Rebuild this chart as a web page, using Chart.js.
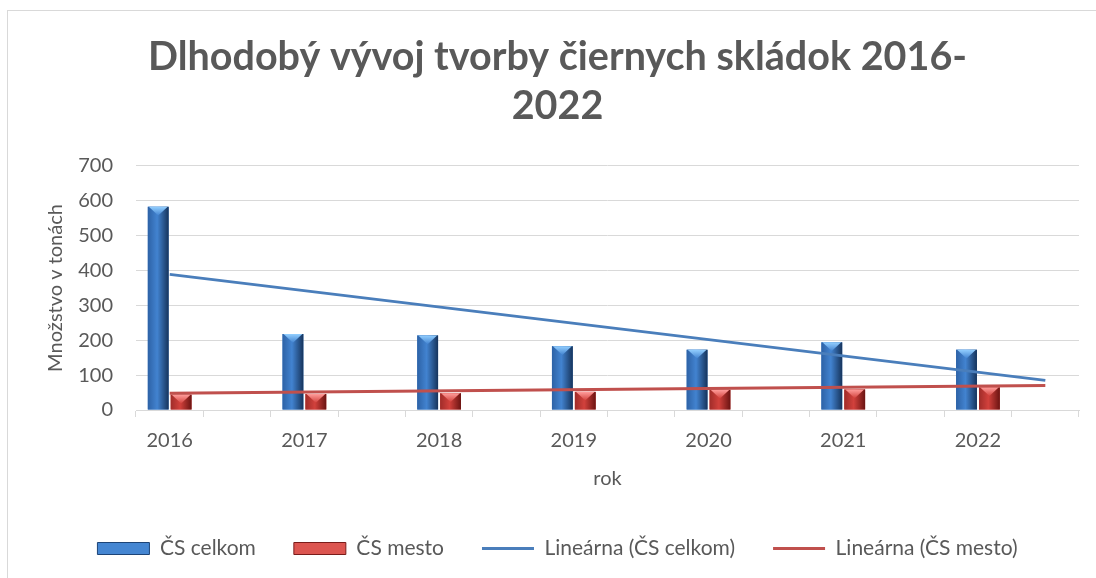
<!DOCTYPE html>
<html lang="sk">
<head>
	<meta charset="UTF-8">
	<title>Dlhodobý vývoj tvorby čiernych skládok</title>
	<script src="https://cdn.jsdelivr.net/npm/chart.js@4.4.1/dist/chart.umd.min.js"></script>
	<style>
		html, body { margin: 0; padding: 0; background: #fff; overflow: hidden; }
		#ramec {
			position: absolute; left: 7px; top: 10px;
			width: 1088px; height: 567px;
			border-left: 1px solid #d9d9d9; border-top: 1px solid #d9d9d9;
		}
	</style>
</head>
<body>
	<div id="ramec">
		<canvas id="graf" width="1088" height="567"></canvas>
	</div>
	<script>
		// hodnoty odčítané z obrázka
		const roky = ['2016', '2017', '2018', '2019', '2020', '2021', '2022'];
		const csCelkom = [583, 218, 214, 183, 173, 194, 173];
		const csMesto = [44, 46, 48, 52, 58, 59, 65];
		// koncové body lineárnych trendov (začiatok, koniec osi)
		const trendCelkom = [389, 85];
		const trendMesto = [48, 70];
		const yTicks = [0, 100, 200, 300, 400, 500, 600, 700];

		// každý rok má za sebou prázdnu kategóriu
		const labels = [];
		const dataCelkom = [];
		const dataMesto = [];
		roky.forEach((r, i) => {
			labels.push(r, '');
			dataCelkom.push(csCelkom[i], null);
			dataMesto.push(csMesto[i], null);
		});
		const trendLine = (ends) => labels.map((_, i) => i === 0 ? ends[0] : (i === labels.length - 1 ? ends[1] : null));

		const farby = [
			{ edge: '#2d62a6', mid: '#4283d0', dark: '#16345c', hi: '#93cfff' },
			{ edge: '#a02c29', mid: '#d2413c', dark: '#6b1412', hi: '#ff9d9b' }
		];

		const bevel = {
			id: 'bevel',
			afterDatasetDraw(chart, args) {
				const meta = args.meta;
				if (meta.type !== 'bar') return;
				const c = farby[args.index];
				const ctx = chart.ctx;
				ctx.save();
				meta.data.forEach(el => {
					const p = el.getProps(['x', 'y', 'base', 'width'], true);
					if (p.y == null || isNaN(p.y) || isNaN(p.base)) return;
					const l = p.x - p.width / 2, r = p.x + p.width / 2, h = p.base - p.y;
					if (h <= 0) return;
					const g = ctx.createLinearGradient(l, 0, r, 0);
					g.addColorStop(0, c.edge);
					g.addColorStop(0.45, c.mid);
					g.addColorStop(1, c.dark);
					ctx.fillStyle = g;
					ctx.fillRect(l, p.y, p.width, h);
					const th = Math.min(p.width * 0.42, h);
					const g2 = ctx.createLinearGradient(0, p.y, 0, p.y + th);
					g2.addColorStop(0, c.hi);
					g2.addColorStop(1, c.mid);
					ctx.fillStyle = g2;
					ctx.beginPath();
					ctx.moveTo(l + 1, p.y);
					ctx.lineTo(r - 1, p.y);
					ctx.lineTo(p.x, p.y + th);
					ctx.closePath();
					ctx.fill();
				});
				ctx.restore();
			}
		};

		const sedaText = '#595959';
		const mriezka = '#d9d9d9';

		new Chart(document.querySelector('#graf'), {
			data: {
				labels: labels,
				datasets: [
					{ type: 'bar', label: 'ČS celkom', data: dataCelkom, backgroundColor: '#3c7dca', order: 1,
						legendFill: '#4586d2', legendStroke: '#1d4477' },
					{ type: 'bar', label: 'ČS mesto', data: dataMesto, backgroundColor: '#d2413c', order: 1,
						legendFill: '#dc5550', legendStroke: '#7a1c1a' },
					{ type: 'line', label: 'Lineárna (ČS celkom)', data: trendLine(trendCelkom), spanGaps: true,
						borderColor: '#4a7ebb', borderWidth: 3, pointRadius: 0, order: 0,
						legendFill: '#4a7ebb', legendStroke: '#4a7ebb' },
					{ type: 'line', label: 'Lineárna (ČS mesto)', data: trendLine(trendMesto), spanGaps: true,
						borderColor: '#c0504d', borderWidth: 3, pointRadius: 0, order: 0,
						legendFill: '#c0504d', legendStroke: '#c0504d' }
				]
			},
			options: {
				responsive: false,
				animation: false,
				datasets: { bar: { categoryPercentage: 0.68, barPercentage: 0.91 } },
				layout: { padding: { left: 28, right: 17, top: 0, bottom: 9 } },
				plugins: {
					title: {
						display: true,
						text: ['Dlhodobý vývoj tvorby čiernych skládok 2016-', '2022'],
						color: sedaText,
						font: { family: 'Lato', size: 39.5, weight: 'bold', lineHeight: 1.24 },
						padding: { top: 22, bottom: 35 }
					},
					legend: {
						position: 'bottom',
						labels: {
							color: sedaText,
							font: { family: 'Lato', size: 21 },
							usePointStyle: true,
							pointStyleWidth: 52,
							boxHeight: 12,
							padding: 38,
							generateLabels: (chart) => chart.data.datasets.map((ds, i) => ({
								text: ds.label,
								datasetIndex: i,
								fillStyle: ds.legendFill,
								strokeStyle: ds.legendStroke,
								lineWidth: ds.type === 'line' ? 3 : 1,
								pointStyle: ds.type === 'line' ? 'line' : 'rect',
								fontColor: sedaText,
								hidden: false
							}))
						}
					},
					tooltip: { enabled: false }
				},
				scales: {
					x: {
						afterFit: (s) => { s.height = 90; },
						grid: { drawOnChartArea: false, drawTicks: true, tickLength: 7, color: mriezka },
						border: { color: mriezka },
						ticks: { color: sedaText, font: { family: 'Lato', size: 20 }, padding: 12, maxRotation: 0, autoSkip: false },
						title: { display: true, text: 'rok', color: sedaText, font: { family: 'Lato', size: 20, lineHeight: 1.2 }, padding: { top: 0, bottom: 9 } }
					},
					y: {
						min: 0,
						max: 700,
						afterFit: (s) => { s.width = 100; },
						afterBuildTicks: (s) => { s.ticks = yTicks.map(v => ({ value: v })); },
						grid: { color: mriezka, drawTicks: false },
						border: { display: false },
						ticks: { color: sedaText, font: { family: 'Lato', size: 20 }, padding: 23 },
						title: { display: true, text: 'Množstvo v tonách', color: sedaText, font: { family: 'Lato', size: 20, lineHeight: 1.2 }, padding: { top: 8, bottom: 0 } }
					}
				}
			},
			plugins: [bevel]
		});
	</script>
</body>
</html>
